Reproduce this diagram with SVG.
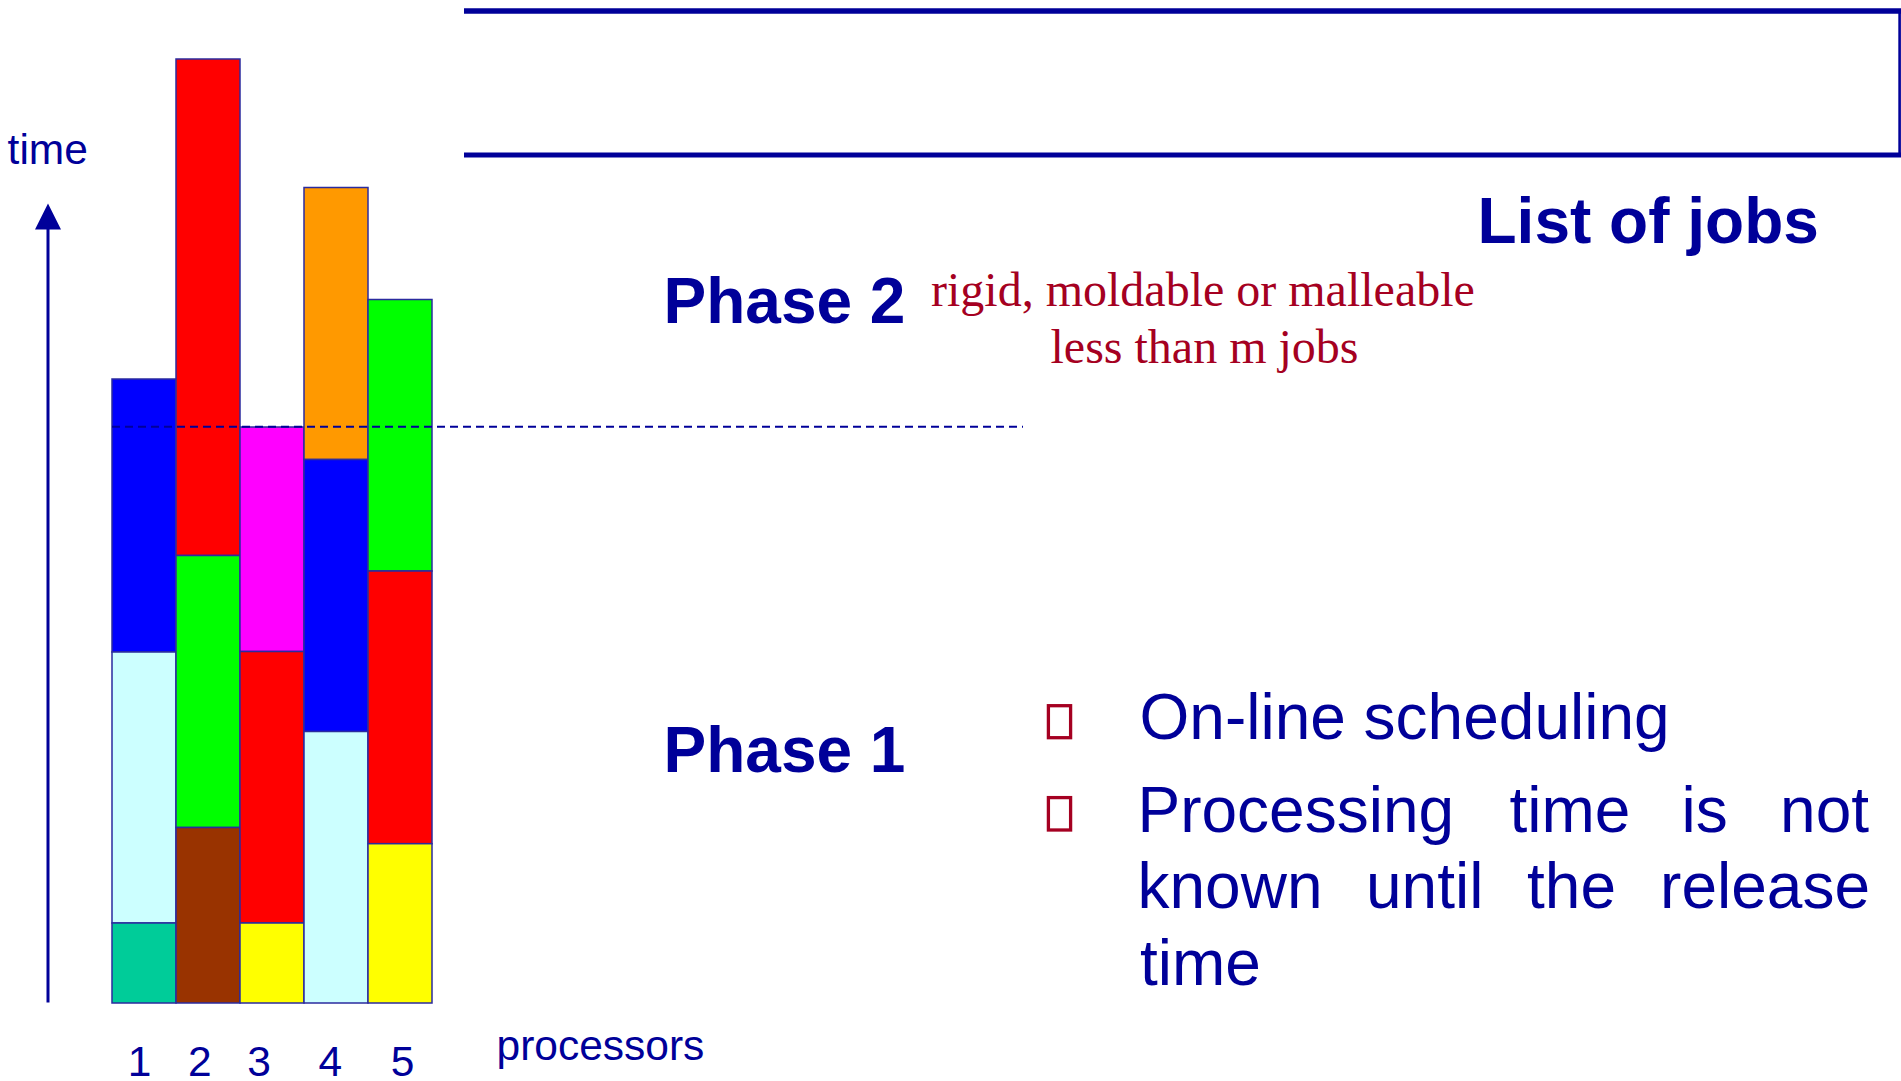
<svg xmlns="http://www.w3.org/2000/svg" width="1901" height="1081" viewBox="0 0 1901 1081">
  <style>
    .job { stroke: #2b2b9e; stroke-width: 1.5; }
    .sans { font-family: "Liberation Sans", Arial, sans-serif; fill: #000099; }
    .bold { font-weight: bold; font-size: 64px; }
    .axis { font-size: 42.5px; }
    .body { font-size: 64px; }
    .serif { font-family: "Liberation Serif", "Times New Roman", serif; fill: #A50021; font-size: 48px; }
    .bullet { fill: none; stroke: #A50021; stroke-width: 3.3; }
    .frame { stroke: #000099; fill: none; }
  </style>

  <rect width="1901" height="1081" fill="#ffffff"/>

  <!-- top frame (list of jobs) -->
  <g id="job-list-frame">
    <line class="frame" x1="464" y1="11" x2="1901" y2="11" stroke-width="5.3"/>
    <line class="frame" x1="464" y1="155" x2="1901" y2="155" stroke-width="5"/>
    <line class="frame" x1="1899.6" y1="9" x2="1899.6" y2="157" stroke-width="2.6"/>
  </g>

  <!-- processor columns -->
  <g id="proc-1">
    <rect class="job" x="112" y="379" width="64" height="273" fill="#0000FF"/>
    <rect class="job" x="112" y="652" width="64" height="271" fill="#CCFFFF"/>
    <rect class="job" x="112" y="923" width="64" height="80" fill="#00CC99"/>
  </g>
  <g id="proc-2">
    <rect class="job" x="176" y="59" width="64" height="496.5" fill="#FF0000"/>
    <rect class="job" x="176" y="555.5" width="64" height="272" fill="#00FF00"/>
    <rect class="job" x="176" y="827.5" width="64" height="175.5" fill="#993300"/>
  </g>
  <g id="proc-3">
    <rect class="job" x="240" y="427" width="64" height="224.5" fill="#FF00FF"/>
    <rect class="job" x="240" y="651.5" width="64" height="271.5" fill="#FF0000"/>
    <rect class="job" x="240" y="923" width="64" height="80" fill="#FFFF00"/>
  </g>
  <g id="proc-4">
    <rect class="job" x="304" y="187.5" width="64" height="272" fill="#FF9900"/>
    <rect class="job" x="304" y="459.5" width="64" height="272" fill="#0000FF"/>
    <rect class="job" x="304" y="731.5" width="64" height="271.5" fill="#CCFFFF"/>
  </g>
  <g id="proc-5">
    <rect class="job" x="368" y="299.5" width="64" height="271.5" fill="#00FF00"/>
    <rect class="job" x="368" y="571" width="64" height="272.7" fill="#FF0000"/>
    <rect class="job" x="368" y="843.7" width="64" height="159.3" fill="#FFFF00"/>
  </g>

  <!-- time axis and phase boundary -->
  <g id="connectors">
    <line x1="48" y1="1002.5" x2="48" y2="226" stroke="#000099" stroke-width="3"/>
    <polygon points="48,203.5 35,229.5 61,229.5" fill="#000099"/>
    <line x1="112" y1="426.8" x2="1023" y2="426.8" stroke="#000099" stroke-width="2" stroke-dasharray="8 5"/>
  </g>

  <!-- axis labels -->
  <g id="axis-labels" class="sans axis">
    <text x="7.6" y="163.5">time</text>
    <text x="496.5" y="1060">processors</text>
    <text x="127.7" y="1076">1</text>
    <text x="188" y="1076">2</text>
    <text x="247.2" y="1076">3</text>
    <text x="318.5" y="1076">4</text>
    <text x="390.7" y="1076">5</text>
  </g>

  <!-- headings -->
  <g id="list-of-jobs" class="sans bold">
    <text x="1477.5" y="243.3">List of jobs</text>
  </g>
  <g id="phase-2">
    <text class="sans bold" x="663.5" y="322.7">Phase 2</text>
    <text class="serif" x="931" y="306">rigid, moldable or malleable</text>
    <text class="serif" x="1050.5" y="362.7">less than m jobs</text>
  </g>
  <g id="phase-1">
    <text class="sans bold" x="663.5" y="771.5">Phase 1</text>
  </g>

  <!-- phase 1 bullet list -->
  <g id="phase-1-notes">
    <rect class="bullet" x="1048.4" y="705.7" width="22.2" height="32"/>
    <rect class="bullet" x="1048.4" y="797.6" width="22.2" height="32.4"/>
    <g class="sans body">
      <text x="1139.5" y="739.3">On-line scheduling</text>
      <text x="1137.5" y="831.7">Processing</text>
      <text x="1509.5" y="831.7">time</text>
      <text x="1681.5" y="831.7">is</text>
      <text x="1869" y="831.7" text-anchor="end">not</text>
      <text x="1137.5" y="908.3">known</text>
      <text x="1366" y="908.3">until</text>
      <text x="1527" y="908.3">the</text>
      <text x="1870" y="908.3" text-anchor="end">release</text>
      <text x="1140" y="985">time</text>
    </g>
  </g>
</svg>
